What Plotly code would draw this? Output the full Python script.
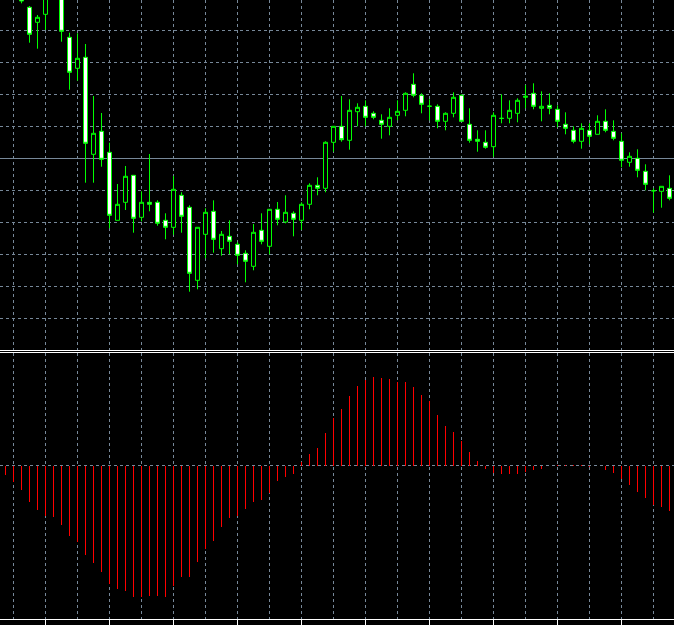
import plotly.graph_objects as go

# ---- data ----
bar_index = list(range(84))

open_ = [2003.00, 2002.20, 2001.20, 1999.27, 1997.77, 1998.57, 2000.50, 2001.00, 1996.27, 1993.17,
         1994.27, 1984.57, 1986.87, 1984.77, 1977.97, 1979.77, 1982.47, 1978.27, 1979.77, 1979.77,
         1977.97, 1977.27, 1980.47, 1979.27, 1971.97, 1976.57, 1978.87, 1975.13, 1976.37, 1975.57,
         1974.67, 1973.37, 1976.97, 1975.37, 1979.07, 1977.80, 1978.67, 1977.97, 1979.57, 1981.47,
         1981.17, 1985.77, 1987.37, 1985.97, 1988.83, 1989.37, 1988.67, 1987.97, 1987.37, 1988.47,
         1988.97, 1991.57, 1990.47, 1989.37, 1989.37, 1987.87, 1988.67, 1990.47, 1987.57, 1986.07,
         1985.77, 1985.33, 1988.17, 1988.17, 1988.67, 1990.27, 1990.67, 1989.17, 1989.47, 1989.07,
         1987.57, 1986.97, 1985.87, 1986.97, 1986.57, 1987.87, 1986.87, 1985.87, 1983.77, 1984.17,
         1982.87, 1980.93, 1980.87, 1981.17]
high_ = [2003.60, 2002.70, 2001.60, 1999.40, 1998.50, 2001.00, 2002.00, 2001.20, 1996.73, 1996.67,
         1995.60, 1990.40, 1988.70, 1985.73, 1981.60, 1983.40, 1982.47, 1980.87, 1984.60, 1979.97,
         1978.67, 1982.40, 1980.77, 1979.47, 1977.27, 1979.17, 1979.97, 1976.90, 1977.97, 1975.77,
         1974.97, 1977.60, 1978.67, 1979.07, 1979.80, 1980.47, 1978.87, 1979.77, 1981.67, 1982.27,
         1985.87, 1987.37, 1990.40, 1990.07, 1989.67, 1989.97, 1988.87, 1988.57, 1989.17, 1989.97,
         1990.77, 1992.67, 1990.67, 1990.07, 1989.57, 1988.77, 1990.77, 1990.57, 1989.17, 1986.97,
         1986.97, 1988.77, 1990.57, 1989.97, 1990.17, 1991.50, 1991.67, 1990.87, 1990.67, 1989.47,
         1988.77, 1987.37, 1987.67, 1987.67, 1988.47, 1989.07, 1987.97, 1986.67, 1984.77, 1985.07,
         1983.57, 1981.17, 1981.37, 1982.47]
low_ = [2001.80, 2001.00, 1999.67, 1995.73, 1995.13, 1997.00, 2000.20, 1995.83, 1991.03, 1991.93,
        1981.73, 1981.73, 1983.33, 1977.17, 1977.97, 1979.00, 1976.73, 1977.87, 1978.87, 1977.43,
        1976.07, 1976.53, 1976.73, 1970.83, 1971.07, 1974.17, 1974.73, 1974.43, 1974.57, 1973.57,
        1971.77, 1972.97, 1975.57, 1974.57, 1977.47, 1977.67, 1976.37, 1977.00, 1979.07, 1980.47,
        1980.77, 1984.83, 1985.83, 1985.03, 1987.37, 1987.37, 1988.07, 1986.13, 1986.47, 1987.97,
        1988.37, 1990.27, 1988.67, 1987.97, 1987.17, 1986.97, 1988.27, 1987.87, 1985.73, 1984.83,
        1985.13, 1984.33, 1987.67, 1987.67, 1987.77, 1989.17, 1989.07, 1987.87, 1988.57, 1987.27,
        1986.57, 1985.67, 1985.13, 1985.57, 1986.57, 1986.77, 1985.97, 1983.27, 1983.33, 1982.27,
        1980.97, 1978.73, 1979.23, 1979.97]
close_ = [2002.20, 2001.40, 1999.90, 1996.57, 1998.27, 2000.60, 2001.40, 1996.87, 1992.77, 1994.17,
          1985.67, 1986.67, 1984.07, 1978.47, 1979.57, 1982.37, 1978.17, 1979.77, 1979.57, 1977.67,
          1977.27, 1981.07, 1978.37, 1972.67, 1977.27, 1978.77, 1976.07, 1976.57, 1975.87, 1974.47,
          1973.87, 1976.77, 1975.87, 1979.07, 1978.07, 1978.77, 1978.07, 1979.57, 1981.47, 1981.17,
          1985.77, 1987.37, 1986.03, 1988.97, 1989.27, 1988.27, 1988.27, 1987.57, 1988.27, 1988.87,
          1990.67, 1990.47, 1989.57, 1989.38, 1987.87, 1988.67, 1990.27, 1987.87, 1985.97, 1985.87,
          1985.27, 1988.47, 1988.16, 1988.97, 1989.97, 1990.37, 1989.37, 1989.37, 1989.17, 1987.87,
          1987.17, 1985.87, 1987.17, 1986.37, 1987.87, 1986.97, 1986.17, 1983.97, 1984.37, 1982.97,
          1981.57, 1980.92, 1981.37, 1980.17]

osc_values = [-0.97, -1.63, -2.47, -3.67, -4.47, -5.07, -5.17, -5.97, -7.07, -7.67,
              -8.97, -9.77, -10.67, -11.87, -12.37, -12.57, -13.17, -13.17, -13.07, -13.07,
              -13.17, -12.07, -11.17, -11.17, -9.67, -8.37, -7.57, -6.17, -5.27, -5.07,
              -4.37, -3.67, -3.47, -2.77, -1.57, -1.17, -0.87, 0.33, 1.13, 1.73,
              3.23, 4.80, 5.70, 7.00, 8.00, 8.60, 8.90, 8.80, 8.70, 8.40,
              8.40, 7.90, 7.10, 6.50, 5.10, 4.00, 3.40, 2.50, 1.40, 0.50,
              -0.33, -0.70, -0.83, -0.83, -0.83, -0.60, -0.43, -0.33, -0.03, 0.10,
              0.10, 0.02, 0.02, -0.17, 0.00, -0.43, -0.73, -1.33, -1.93, -2.63,
              -3.23, -3.93, -4.13, -4.53]

bid_price = 1984.15

# ---- styling ----
GRID = "#778899"
LIME = "#00ff00"
W, H = 674, 625
MB = 6
PH = H - MB  # plot height in px

fig = go.Figure()

fig.add_trace(go.Candlestick(
    x=bar_index, open=open_, high=high_, low=low_, close=close_,
    xaxis="x", yaxis="y",
    increasing=dict(line=dict(color=LIME, width=1), fillcolor="black"),
    decreasing=dict(line=dict(color=LIME, width=1), fillcolor="white"),
    whiskerwidth=0, showlegend=False, hoverinfo="skip",
))

fig.add_trace(go.Bar(
    x=bar_index, y=osc_values, xaxis="x2", yaxis="y2",
    width=0.125, marker=dict(color="#ff0000", line=dict(width=0)),
    showlegend=False, hoverinfo="skip",
))

x_lo = -5.5 / 8
x_hi = x_lo + W / 8

top_bottom_px = 349.5
bot_top_px = 353.0

fig.update_layout(
    width=W, height=H,
    margin=dict(l=0, r=0, t=0, b=MB, pad=0),
    paper_bgcolor="black", plot_bgcolor="black",
    boxgap=0.5, boxgroupgap=0,
    bargap=0,
    showlegend=False,
    xaxis=dict(
        domain=[0, 1], range=[x_lo, x_hi], anchor="y",
        rangeslider=dict(visible=False),
        showticklabels=False, ticks="", zeroline=False, showline=False,
        showgrid=True, tick0=1, dtick=4, gridcolor=GRID, griddash="3px,3px", gridwidth=1,
    ),
    yaxis=dict(
        domain=[(PH - top_bottom_px) / PH, 1], range=[2000 - top_bottom_px / 10, 2000],
        anchor="x", showticklabels=False, ticks="", zeroline=False, showline=False,
        showgrid=True, tick0=1996.95, dtick=3.2, gridcolor=GRID, griddash="3px,3px", gridwidth=1,
    ),
    xaxis2=dict(
        domain=[0, 1], range=[x_lo, x_hi], anchor="y2", matches="x",
        showticklabels=False, zeroline=False,
        showline=True, linecolor="white", linewidth=1,
        ticks="outside", tick0=5, dtick=8, ticklen=5, tickcolor="white", tickwidth=1,
        showgrid=True, gridcolor=GRID, griddash="3px,3px", gridwidth=1,
        minor=dict(tick0=1, dtick=4, showgrid=True, gridcolor=GRID, griddash="3px,3px",
                   gridwidth=1, ticks=""),
    ),
    yaxis2=dict(
        domain=[0, (PH - bot_top_px) / PH],
        range=[11.25 - (PH - bot_top_px) / 10, 11.25],
        anchor="x2", showticklabels=False, ticks="", zeroline=False, showline=False,
        tickvals=[0], showgrid=True, gridcolor=GRID, griddash="3px,3px", gridwidth=1,
    ),
    shapes=[
        dict(type="line", xref="paper", yref="y", x0=0, x1=1, y0=bid_price, y1=bid_price,
             line=dict(color=GRID, width=1), layer="below"),
        dict(type="line", xref="paper", yref="paper", x0=0, x1=1,
             y0=(PH - 350.5) / PH, y1=(PH - 350.5) / PH, line=dict(color="white", width=1)),
        dict(type="line", xref="paper", yref="paper", x0=0, x1=1,
             y0=(PH - 352.5) / PH, y1=(PH - 352.5) / PH, line=dict(color="white", width=1)),
    ],
)

fig.write_html(
    "out.html",
    config={"displayModeBar": False, "staticPlot": True},
    post_script="document.body.style.margin='0';document.body.style.padding='0';"
                "document.body.style.background='black';document.body.style.overflow='hidden';",
)
